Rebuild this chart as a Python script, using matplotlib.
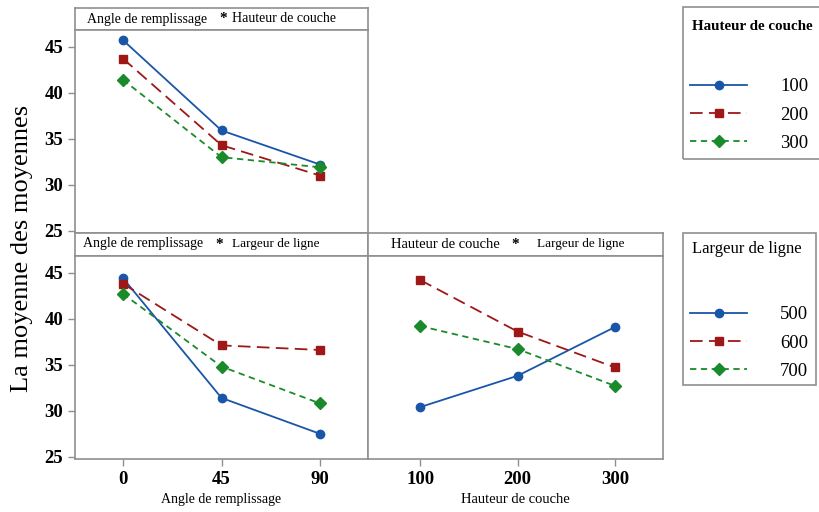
import matplotlib
matplotlib.use("Agg")
import matplotlib.pyplot as plt
from matplotlib.patches import Rectangle

# Factor levels
angles = [0, 45, 90]
heights = [100, 200, 300]
widths = [500, 600, 700]
height_labels = ["100", "200", "300"]
width_labels = ["500", "600", "700"]

# Angle de remplissage x Hauteur de couche (one series per layer height)
ah_100 = [45.7, 35.9, 32.2]
ah_200 = [43.7, 34.3, 31.0]
ah_300 = [41.4, 33.0, 31.9]

# Angle de remplissage x Largeur de ligne (one series per line width)
aw_500 = [44.4, 31.4, 27.5]
aw_600 = [43.8, 37.1, 36.6]
aw_700 = [42.7, 34.8, 30.8]

# Hauteur de couche x Largeur de ligne (one series per line width)
hw_500 = [30.4, 33.8, 39.1]
hw_600 = [44.2, 38.6, 34.7]
hw_700 = [39.2, 36.7, 32.7]

y_ticks = [25, 30, 35, 40, 45]

W, H = 819, 512
SERIF = ["Liberation Serif", "DejaVu Serif"]
plt.rcParams["font.family"] = SERIF
FRAME = "#8f8f8f"

BLUE = "#1a56a8"
RED = "#9e1818"
GREEN = "#1b8a2b"
styles = [
    dict(color=BLUE, linestyle="-", marker="o", markersize=6, linewidth=1.3),
    dict(color=RED, linestyle=(0, (7, 3.5)), marker="s", markersize=6, linewidth=1.3),
    dict(color=GREEN, linestyle=(0, (3.5, 2.5)), marker="D", markersize=6, linewidth=1.3),
]

fig = plt.figure(figsize=(W / 100, H / 100), dpi=100)


def rect(x0, y0, x1, y1):
    return [x0 / W, 1 - y1 / H, (x1 - x0) / W, (y1 - y0) / H]


def fx(x):
    return x / W


def fy(y):
    return 1 - y / H


def style_frame(ax):
    for s in ax.spines.values():
        s.set_color(FRAME)
        s.set_linewidth(1.2)


def panel(x0, x1, y_strip, y_top, y_bot, xlim):
    strip = fig.add_axes(rect(x0, y_strip, x1, y_top))
    strip.set_xticks([])
    strip.set_yticks([])
    style_frame(strip)
    ax = fig.add_axes(rect(x0, y_top, x1, y_bot))
    style_frame(ax)
    ax.set_xlim(*xlim)
    ax.set_ylim(24.77, 46.8)
    ax.tick_params(colors=FRAME, length=5, width=1.0, labelcolor="black")
    return ax


def strip_title(pieces, y):
    for x, txt, size, weight in pieces:
        fig.text(fx(x), fy(y), txt, fontsize=size, fontweight=weight,
                 ha="left", va="center", color="black")


# Top-left panel
ax1 = panel(75, 368, 8, 30, 233, (-21.9, 111.9))
for vals, st in zip([ah_100, ah_200, ah_300], styles):
    ax1.plot(angles, vals, **st)
ax1.set_xticks([])
ax1.set_yticks(y_ticks)
ax1.set_yticklabels([str(v) for v in y_ticks], fontsize=13.5, fontweight="bold")
strip_title([(87, "Angle de remplissage", 10, "normal"),
             (219, "*", 11, "bold"),
             (232, "Hauteur de couche", 10, "normal")], 19)

# Bottom-left panel
ax2 = panel(75, 368, 233, 256, 459, (-21.9, 111.9))
for vals, st in zip([aw_500, aw_600, aw_700], styles):
    ax2.plot(angles, vals, **st)
ax2.set_xticks(angles)
ax2.set_xticklabels([str(a) for a in angles], fontsize=13.5, fontweight="bold")
ax2.set_yticks(y_ticks)
ax2.set_yticklabels([str(v) for v in y_ticks], fontsize=13.5, fontweight="bold")
ax2.set_xlabel("Angle de remplissage", fontsize=10, labelpad=4)
strip_title([(83, "Angle de remplissage", 10, "normal"),
             (215, "*", 11, "bold"),
             (232, "Largeur de ligne", 9.5, "normal")], 244)

# Bottom-right panel
ax3 = panel(368, 663, 233, 256, 459, (46.6, 349.1))
for vals, st in zip([hw_500, hw_600, hw_700], styles):
    ax3.plot(heights, vals, **st)
ax3.set_xticks(heights)
ax3.set_xticklabels([str(h) for h in heights], fontsize=13.5, fontweight="bold")
ax3.set_yticks([])
ax3.set_xlabel("Hauteur de couche", fontsize=10.5, labelpad=4)
strip_title([(391, "Hauteur de couche", 10.5, "normal"),
             (511, "*", 11, "bold"),
             (537, "Largeur de ligne", 9.5, "normal")], 244)

# Shared y label
fig.text(fx(22), fy(248), "La moyenne des moyennes", rotation=90,
         fontsize=19, ha="center", va="center")


def legend_box(x0, y0, x1, y1, title, title_size, title_weight, title_y,
               handles, labels, first_row_y):
    fig.patches.append(Rectangle((fx(x0), fy(y1)), (x1 - x0) / W, (y1 - y0) / H,
                                 transform=fig.transFigure, fill=False,
                                 edgecolor=FRAME, linewidth=1.2))
    fig.text(fx(x0 + 9), fy(title_y), title, fontsize=title_size,
             fontweight=title_weight, ha="left", va="center")
    fig.legend(handles=handles, labels=labels, loc="upper left",
               bbox_to_anchor=(fx(x0 + 7), fy(first_row_y)),
               frameon=False, fontsize=13.5, handlelength=3.05,
               handletextpad=1.75, labelspacing=0.6, borderpad=0,
               borderaxespad=0, numpoints=1)


legend_box(683, 7, 830, 159, "Hauteur de couche", 10.8, "bold", 26,
           ax1.lines, height_labels, 78)
legend_box(683, 233, 816, 385, "Largeur de ligne", 12, "normal", 249,
           ax2.lines, width_labels, 306)

fig.savefig("out.png", dpi=100)
